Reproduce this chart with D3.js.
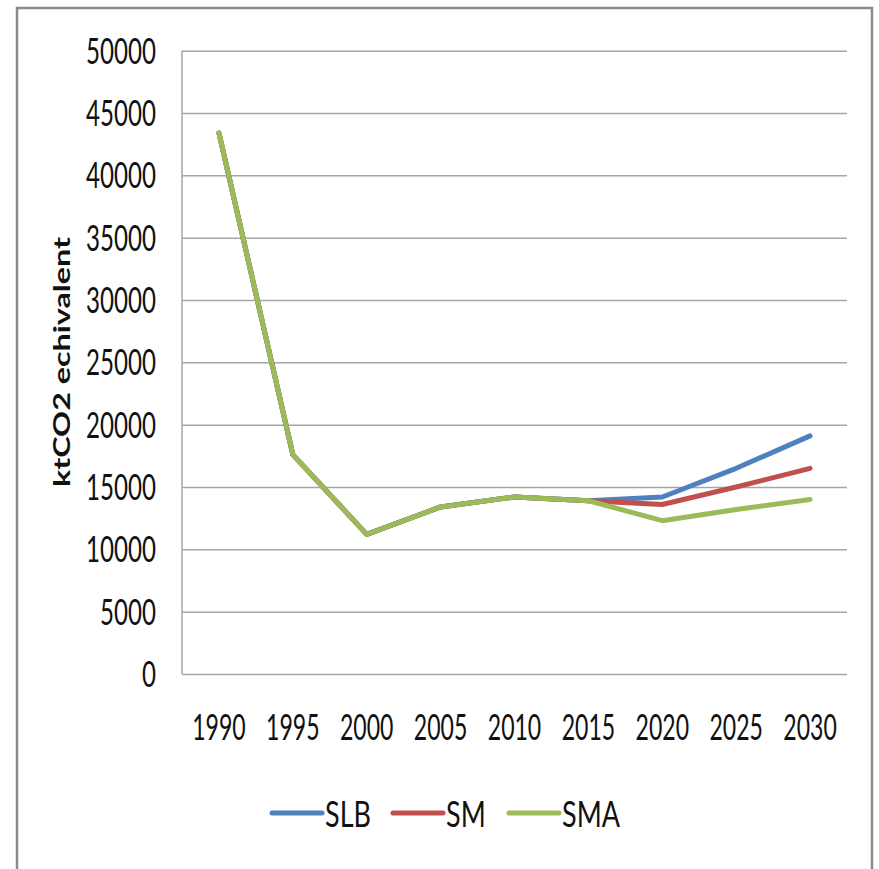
<!DOCTYPE html>
<html>
<head>
<meta charset="utf-8">
<script src="https://cdn.jsdelivr.net/npm/d3@7"></script>
<style>
  html, body { margin: 0; padding: 0; background: #fff; }
  svg { display: block; }
  text { font-family: Lato, "Noto Sans", sans-serif; fill: #111; }
</style>
</head>
<body>
<svg id="chart" width="879" height="869"></svg>
<script>
// Emissions by scenario, ktCO2 equivalent
const years = ["1990", "1995", "2000", "2005", "2010", "2015", "2020", "2025", "2030"];
const slb = [43400, 17600, 11200, 13400, 14200, 13900, 14200, 16500, 19100];
const sm  = [43400, 17600, 11200, 13400, 14200, 13900, 13600, 15000, 16500];
const sma = [43400, 17600, 11200, 13400, 14200, 13900, 12300, 13200, 14000];
const yTicks = [0, 5000, 10000, 15000, 20000, 25000, 30000, 35000, 40000, 45000, 50000];
const seriesNames = ["SLB", "SM", "SMA"];
const seriesColors = ["#4F81BD", "#C0504D", "#9BBB59"];
const seriesValues = [slb, sm, sma];

const svg = d3.select("#chart");
const squeeze = 0.67; // narrow glyphs, as in the original chart font

// outer frame
svg.append("rect")
  .attr("x", 17).attr("y", 8)
  .attr("width", 855).attr("height", 900)
  .attr("fill", "none").attr("stroke", "#8a8a8a").attr("stroke-width", 2.5);

const plot = { left: 182, right: 847, top: 50.7, bottom: 674 };

const x = d3.scaleBand().domain(years).range([plot.left, plot.right]);
const y = d3.scaleLinear().domain([0, 50000]).range([plot.bottom, plot.top]);
const cx = d => x(d) + x.bandwidth() / 2;

// gridlines
svg.append("g")
  .attr("transform", `translate(${plot.left},0)`)
  .call(d3.axisLeft(y).tickValues(yTicks).tickSize(-(plot.right - plot.left)).tickFormat(""))
  .call(g => g.select(".domain").remove())
  .call(g => g.selectAll(".tick line").attr("stroke", "#a6a6a6").attr("stroke-width", 1.5));

// left axis line
svg.append("line")
  .attr("x1", plot.left).attr("x2", plot.left)
  .attr("y1", plot.top).attr("y2", plot.bottom)
  .attr("stroke", "#a6a6a6").attr("stroke-width", 1.5);

// y tick labels
svg.append("g").selectAll("g")
  .data(yTicks)
  .join("g")
  .attr("transform", d => `translate(156,${y(d)}) scale(${squeeze},1)`)
  .append("text")
  .attr("text-anchor", "end")
  .attr("dy", "0.36em")
  .attr("font-size", 36)
  .text(d => d);

// x tick labels
svg.append("g").selectAll("g")
  .data(years)
  .join("g")
  .attr("transform", d => `translate(${cx(d)},727) scale(${squeeze * 0.93},1)`)
  .append("text")
  .attr("text-anchor", "middle")
  .attr("dy", "0.36em")
  .attr("font-size", 37)
  .text(d => d);

// y axis title
svg.append("g")
  .attr("transform", "translate(70,362) rotate(-90)")
  .append("text")
  .attr("text-anchor", "middle")
  .attr("font-weight", "bold")
  .attr("font-size", 23)
  .attr("textLength", 250)
  .attr("lengthAdjust", "spacingAndGlyphs")
  .text("ktCO2 echivalent");

// series lines
const line = d3.line()
  .x((d, i) => cx(years[i]))
  .y(d => y(d));

svg.append("g").selectAll("path")
  .data(seriesValues)
  .join("path")
  .attr("d", d => line(d))
  .attr("fill", "none")
  .attr("stroke", (d, i) => seriesColors[i])
  .attr("stroke-width", 5)
  .attr("stroke-linejoin", "round")
  .attr("stroke-linecap", "round");

// legend
const legendX = [272, 393, 509];
const legend = svg.append("g").selectAll("g")
  .data(seriesNames)
  .join("g")
  .attr("transform", (d, i) => `translate(${legendX[i]},813)`);

legend.append("line")
  .attr("x1", 0).attr("x2", 50)
  .attr("stroke", (d, i) => seriesColors[i])
  .attr("stroke-width", 5)
  .attr("stroke-linecap", "round");

legend.append("g")
  .attr("transform", `translate(53,14) scale(0.72,1)`)
  .append("text")
  .attr("font-size", 37.5)
  .text(d => d);
</script>
</body>
</html>
